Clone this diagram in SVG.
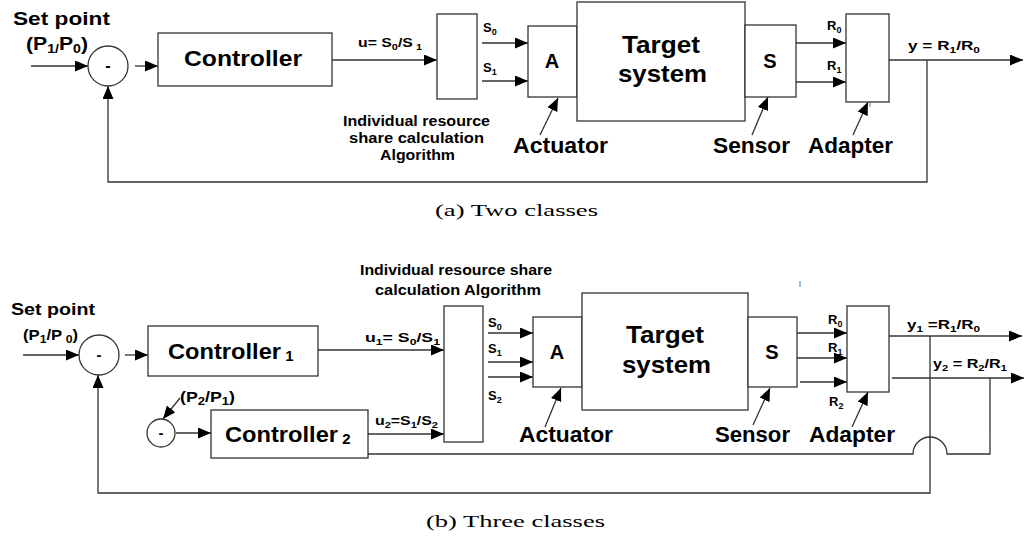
<svg xmlns="http://www.w3.org/2000/svg" width="1032" height="543" viewBox="0 0 1032 543">
<style>
.bg{fill:#fff}
.box{fill:#fff;stroke:#333;stroke-width:1.3}
.ln{fill:none;stroke:#333;stroke-width:1.3}
.ar{fill:none;stroke:#333;stroke-width:1.3;marker-end:url(#ah)}
.t{font-family:"Liberation Sans",Arial,sans-serif;font-weight:bold;fill:#000}
.c{text-anchor:middle}
.cap{font-family:"Liberation Serif","DejaVu Serif",serif;fill:#000;font-size:17px}
.blue{stroke:#4472c4;stroke-width:1}
</style>
<defs>
<marker id="ah" markerUnits="userSpaceOnUse" markerWidth="13" markerHeight="11" refX="13" refY="5.5" orient="auto">
<path d="M0,0 L13,5.5 L0,11 z" fill="#000"/>
</marker>
</defs>
<rect class="bg" x="0" y="0" width="1032" height="543"/>

<!-- ===== (a) Two classes ===== -->
<g id="connectors-a">
<line class="ar" x1="31" y1="66" x2="88" y2="66"/>
<line class="ar" x1="135" y1="66" x2="158" y2="66"/>
<line class="ar" x1="332" y1="60" x2="437" y2="60"/>
<line class="ar" x1="482" y1="43" x2="528" y2="43"/>
<line class="ar" x1="482" y1="81" x2="528" y2="81"/>
<line class="ar" x1="796" y1="43" x2="846" y2="43"/>
<line class="ar" x1="796" y1="82" x2="846" y2="82"/>
<line class="ar" x1="889" y1="60" x2="1023" y2="60"/>
<polyline class="ar" points="927,60 927,182 108,182 108,86"/>
<line class="ar" x1="540" y1="135" x2="558" y2="98"/>
<line class="ar" x1="752" y1="135" x2="768" y2="97"/>
<line class="ar" x1="853" y1="135" x2="868" y2="102"/>
<line class="blue" x1="870" y1="102" x2="870" y2="107"/>
</g>
<g id="setpoint-a">
<text class="t" x="13" y="25" font-size="19" textLength="97" lengthAdjust="spacingAndGlyphs">Set point</text>
<text class="t" x="26" y="50" font-size="18" textLength="62" lengthAdjust="spacingAndGlyphs">(P<tspan font-size="12" dy="3">1/</tspan><tspan dy="-3">P</tspan><tspan font-size="12" dy="3">0</tspan><tspan dy="-3">)</tspan></text>
</g>
<g id="sum-a">
<circle class="box" cx="108" cy="66" r="20"/>
<text class="t c" x="108" y="71" font-size="16">-</text>
</g>
<g id="controller-a">
<rect class="box" x="158" y="33" width="174" height="53"/>
<text class="t" x="184" y="66" font-size="22" textLength="118" lengthAdjust="spacingAndGlyphs">Controller</text>
</g>
<g id="u-label-a">
<text class="t" x="358" y="47" font-size="13" textLength="64" lengthAdjust="spacingAndGlyphs">u= S<tspan font-size="9" dy="3">0</tspan><tspan dy="-3">/S</tspan><tspan font-size="9" dy="3"> 1</tspan></text>
</g>
<g id="algorithm-a">
<rect class="box" x="437" y="14" width="40" height="85"/>
<text class="t" x="343" y="126" font-size="14" textLength="147" lengthAdjust="spacingAndGlyphs">Individual resource</text>
<text class="t" x="349" y="143" font-size="14" textLength="135" lengthAdjust="spacingAndGlyphs">share calculation</text>
<text class="t" x="380" y="160" font-size="14" textLength="75" lengthAdjust="spacingAndGlyphs">Algorithm</text>
</g>
<g id="s-labels-a">
<text class="t" x="483" y="32" font-size="13">S<tspan font-size="9" dy="3">0</tspan></text>
<text class="t" x="483" y="72" font-size="13">S<tspan font-size="9" dy="3">1</tspan></text>
</g>
<g id="actuator-a">
<rect class="box" x="528" y="26" width="49" height="71"/>
<text class="t c" x="552" y="68" font-size="20">A</text>
<text class="t" x="513" y="153" font-size="22" textLength="95" lengthAdjust="spacingAndGlyphs">Actuator</text>
</g>
<g id="target-a">
<rect class="box" x="577" y="2" width="168" height="119"/>
<text class="t" x="622" y="53" font-size="24" textLength="78" lengthAdjust="spacingAndGlyphs">Target</text>
<text class="t" x="618" y="82" font-size="24" textLength="89" lengthAdjust="spacingAndGlyphs">system</text>
</g>
<g id="sensor-a">
<rect class="box" x="745" y="25" width="51" height="72"/>
<text class="t c" x="770" y="68" font-size="20">S</text>
<text class="t" x="713" y="153" font-size="22" textLength="77" lengthAdjust="spacingAndGlyphs">Sensor</text>
</g>
<g id="r-labels-a">
<text class="t" x="827" y="30" font-size="13">R<tspan font-size="9" dy="3">0</tspan></text>
<text class="t" x="827" y="70" font-size="13">R<tspan font-size="9" dy="3">1</tspan></text>
</g>
<g id="adapter-a">
<rect class="box" x="846" y="14" width="43" height="88"/>
<text class="t" x="808" y="153" font-size="22" textLength="85" lengthAdjust="spacingAndGlyphs">Adapter</text>
</g>
<g id="y-label-a">
<text class="t" x="908" y="50" font-size="13" textLength="72" lengthAdjust="spacingAndGlyphs">y = R<tspan font-size="9" dy="3">1</tspan><tspan dy="-3">/R</tspan><tspan font-size="9" dy="3">0</tspan></text>
</g>
<text class="cap" x="435" y="216" textLength="163" lengthAdjust="spacingAndGlyphs">(a) Two classes</text>

<!-- ===== (b) Three classes ===== -->
<g id="connectors-b">
<line class="ar" x1="23" y1="355" x2="79" y2="355"/>
<line class="ar" x1="125" y1="355" x2="148" y2="355"/>
<polyline class="ar" points="930,336 930,493 98,493 98,375"/>
<line class="ar" x1="318" y1="350" x2="444" y2="350"/>
<line class="ar" x1="180" y1="398" x2="163" y2="419"/>
<line class="ar" x1="176" y1="433" x2="211" y2="433"/>
<line class="ar" x1="368" y1="434" x2="444" y2="434"/>
<path class="ln" d="M368,454 L913,454 A17,17 0 0 1 947,454 L990,454 L990,378"/>
<line class="ar" x1="488" y1="333" x2="533" y2="333"/>
<line class="ar" x1="488" y1="362" x2="533" y2="362"/>
<line class="ar" x1="488" y1="377" x2="533" y2="377"/>
<line class="ar" x1="797" y1="333" x2="847" y2="333"/>
<line class="ar" x1="797" y1="358" x2="847" y2="358"/>
<line class="ar" x1="800" y1="382" x2="847" y2="382"/>
<line class="ar" x1="889" y1="336" x2="1022" y2="336"/>
<line class="ar" x1="892" y1="378" x2="1024" y2="378"/>
<line class="ar" x1="545" y1="427" x2="561" y2="388"/>
<line class="ar" x1="753" y1="425" x2="770" y2="388"/>
<line class="ar" x1="852" y1="427" x2="868" y2="392"/>
<line class="blue" x1="800" y1="281" x2="800" y2="287"/>
</g>
<g id="setpoint-b">
<text class="t" x="11" y="315" font-size="17" textLength="84" lengthAdjust="spacingAndGlyphs">Set point</text>
<text class="t" x="23" y="340" font-size="15" textLength="55" lengthAdjust="spacingAndGlyphs">(P<tspan font-size="11" dy="3">1</tspan><tspan dy="-3">/P</tspan><tspan font-size="11" dy="3"> 0</tspan><tspan dy="-3">)</tspan></text>
</g>
<g id="sum1-b">
<circle class="box" cx="99" cy="355" r="20"/>
<text class="t c" x="99" y="360" font-size="15">-</text>
</g>
<g id="controller1-b">
<rect class="box" x="148" y="326" width="170" height="50"/>
<text class="t" x="168" y="359" font-size="22"><tspan textLength="113" lengthAdjust="spacingAndGlyphs">Controller</tspan><tspan font-size="15" dy="2"> 1</tspan></text>
</g>
<g id="p2p1-b">
<text class="t" x="180" y="402" font-size="15" textLength="55" lengthAdjust="spacingAndGlyphs">(P<tspan font-size="11" dy="3">2</tspan><tspan dy="-3">/P</tspan><tspan font-size="11" dy="3">1</tspan><tspan dy="-3">)</tspan></text>
</g>
<g id="sum2-b">
<circle class="box" cx="161" cy="433" r="14"/>
<text class="t c" x="161" y="438" font-size="15">-</text>
</g>
<g id="controller2-b">
<rect class="box" x="211" y="410" width="157" height="48"/>
<text class="t" x="225" y="442" font-size="22"><tspan textLength="113" lengthAdjust="spacingAndGlyphs">Controller</tspan><tspan font-size="15" dy="2"> 2</tspan></text>
</g>
<g id="u-labels-b">
<text class="t" x="365" y="342" font-size="13" textLength="75" lengthAdjust="spacingAndGlyphs">u<tspan font-size="9" dy="3">1</tspan><tspan dy="-3">= S</tspan><tspan font-size="9" dy="3">0</tspan><tspan dy="-3">/S</tspan><tspan font-size="9" dy="3">1</tspan></text>
<text class="t" x="375" y="425" font-size="13" textLength="63" lengthAdjust="spacingAndGlyphs">u<tspan font-size="9" dy="3">2</tspan><tspan dy="-3">=S</tspan><tspan font-size="9" dy="3">1</tspan><tspan dy="-3">/S</tspan><tspan font-size="9" dy="3">2</tspan></text>
</g>
<g id="algorithm-b">
<rect class="box" x="444" y="306" width="39" height="136"/>
<text class="t" x="360" y="275" font-size="14" textLength="192" lengthAdjust="spacingAndGlyphs">Individual resource share</text>
<text class="t" x="375" y="295" font-size="14" textLength="166" lengthAdjust="spacingAndGlyphs">calculation Algorithm</text>
</g>
<g id="s-labels-b">
<text class="t" x="488" y="327" font-size="13">S<tspan font-size="9" dy="3">0</tspan></text>
<text class="t" x="488" y="353" font-size="13">S<tspan font-size="9" dy="3">1</tspan></text>
<text class="t" x="488" y="400" font-size="13">S<tspan font-size="9" dy="3">2</tspan></text>
</g>
<g id="actuator-b">
<rect class="box" x="533" y="317" width="49" height="70"/>
<text class="t c" x="557" y="359" font-size="20">A</text>
<text class="t" x="519" y="442" font-size="22" textLength="94" lengthAdjust="spacingAndGlyphs">Actuator</text>
</g>
<g id="target-b">
<rect class="box" x="582" y="293" width="166" height="117"/>
<text class="t" x="626" y="343" font-size="24" textLength="78" lengthAdjust="spacingAndGlyphs">Target</text>
<text class="t" x="622" y="373" font-size="24" textLength="89" lengthAdjust="spacingAndGlyphs">system</text>
</g>
<g id="sensor-b">
<rect class="box" x="748" y="317" width="49" height="70"/>
<text class="t c" x="772" y="359" font-size="20">S</text>
<text class="t" x="715" y="442" font-size="22" textLength="75" lengthAdjust="spacingAndGlyphs">Sensor</text>
</g>
<g id="r-labels-b">
<text class="t" x="828" y="324" font-size="13">R<tspan font-size="9" dy="3">0</tspan></text>
<text class="t" x="828" y="352" font-size="13">R<tspan font-size="9" dy="3">1</tspan></text>
<text class="t" x="829" y="406" font-size="13">R<tspan font-size="9" dy="3">2</tspan></text>
</g>
<g id="adapter-b">
<rect class="box" x="847" y="306" width="42" height="86"/>
<text class="t" x="809" y="442" font-size="22" textLength="86" lengthAdjust="spacingAndGlyphs">Adapter</text>
</g>
<g id="y-labels-b">
<text class="t" x="907" y="329" font-size="13" textLength="73" lengthAdjust="spacingAndGlyphs">y<tspan font-size="9" dy="3">1</tspan><tspan dy="-3"> =R</tspan><tspan font-size="9" dy="3">1</tspan><tspan dy="-3">/R</tspan><tspan font-size="9" dy="3">0</tspan></text>
<text class="t" x="933" y="368" font-size="13" textLength="74" lengthAdjust="spacingAndGlyphs">y<tspan font-size="9" dy="3">2</tspan><tspan dy="-3"> = R</tspan><tspan font-size="9" dy="3">2</tspan><tspan dy="-3">/R</tspan><tspan font-size="9" dy="3">1</tspan></text>
</g>
<text class="cap" x="426" y="527" textLength="179" lengthAdjust="spacingAndGlyphs">(b) Three classes</text>
</svg>
